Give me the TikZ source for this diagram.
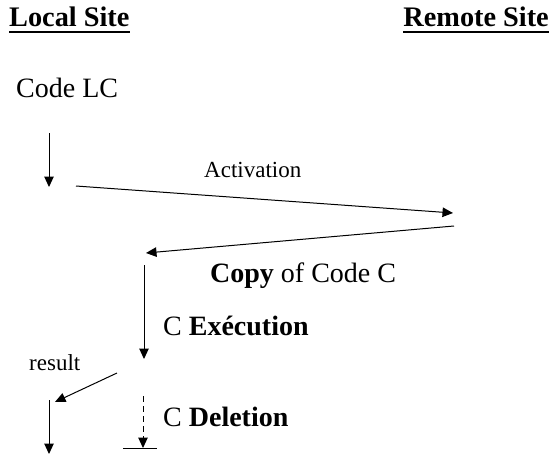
\documentclass[tikz,border=0pt]{standalone}
\usepackage{fontspec}
\setmainfont{Liberation Serif}
\usetikzlibrary{arrows.meta}
\begin{document}
\begin{tikzpicture}[x=1pt,y=-1pt,
  big/.style={inner sep=0pt,font=\fontsize{28}{31}\selectfont},
  head/.style={inner sep=0pt,font=\fontsize{28.3}{31}\selectfont\bfseries},
  small/.style={inner sep=0pt,font=\fontsize{23}{26}\selectfont},
  arr/.style={line width=1pt,-{Triangle[length=10.5pt,width=9.5pt]}},
  uline/.style={line width=2.5pt}]
\useasboundingbox (0,0) rectangle (552,455);
% headers
\node[head,anchor=base west] (ls) at (9,27) {Local Site};
\node[head,anchor=base east] (rs) at (549,27) {Remote Site};
\draw[uline] ([yshift=-5pt]ls.base west) -- ([yshift=-5pt]ls.base east);
\draw[uline] ([yshift=-5pt]rs.base west) -- ([yshift=-5pt]rs.base east);
% texts
\node[big,anchor=base west] (lc) at (16,97) {Code LC};
\node[small,anchor=base west] (act) at (204,177) {Activation};
\node[big,anchor=base west] (copy) at (210,282) {\textbf{Copy} of Code C};
\node[big,anchor=base west] (exe) at (163,335) {C \textbf{Exécution}};
\node[small,anchor=base west] (res) at (29,370) {result};
\node[big,anchor=base west] (del) at (163,426) {C \textbf{Deletion}};
% coordinates
\coordinate (a1s) at (49,133);
\coordinate (a1e) at (49,187);
\coordinate (acts) at (76,186);
\coordinate (acte) at (453,213);
\coordinate (cps) at (454,226);
\coordinate (cpe) at (146,253);
\coordinate (exs) at (144,265);
\coordinate (exe2) at (144,359);
\coordinate (rss) at (117,373);
\coordinate (rse) at (55,402);
\coordinate (dls) at (143,396);
\coordinate (dle) at (143,448);
\coordinate (bl) at (123,448);
\coordinate (br) at (157,448);
\coordinate (fs) at (49,400);
\coordinate (fe) at (49,454);
% arrows
\draw[arr] (a1s) -- (a1e);
\draw[arr] (acts) -- (acte);
\draw[arr] (cps) -- (cpe);
\draw[arr] (exs) -- (exe2);
\draw[arr] (rss) -- (rse);
\draw[arr,dash pattern=on 6pt off 4pt] (dls) -- (dle);
\draw[line width=1pt] (bl) -- (br);
\draw[arr] (fs) -- (fe);
\end{tikzpicture}
\end{document}
